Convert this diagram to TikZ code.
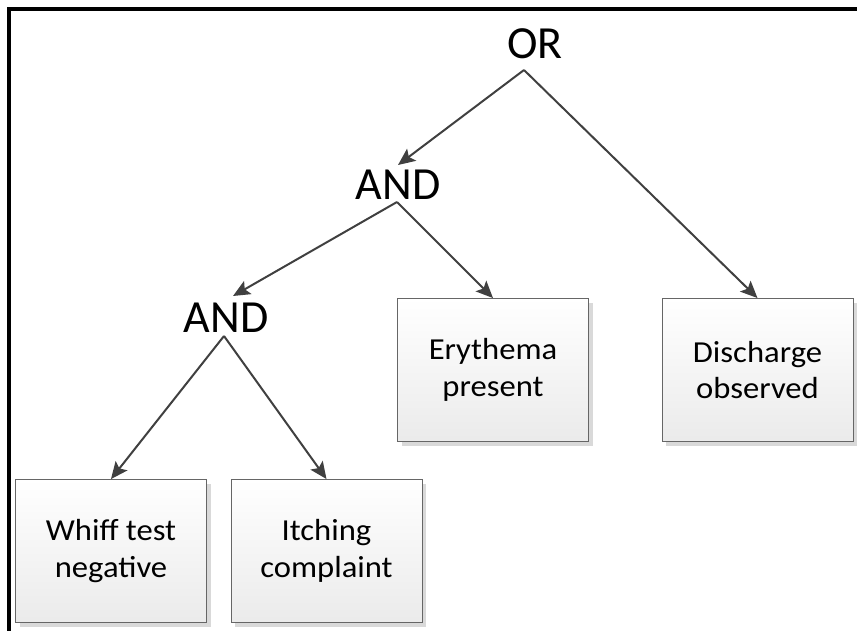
\documentclass[tikz,border=0pt]{standalone}
\usepackage{fontspec}
\setmainfont{Carlito}
\newfontfamily\boxfont[FakeStretch=1.07]{Carlito}
\usetikzlibrary{arrows.meta,shadows}
\tikzset{
  box/.style={draw=black!60, line width=0.9pt, top color=white, bottom color=black!8,
    minimum width=191pt, minimum height=143pt, inner sep=0pt, align=center,
    font=\boxfont\fontsize{30.5}{36.5}\selectfont,
    drop shadow={shadow xshift=4pt, shadow yshift=-4pt, fill=black!15, opacity=1}},
  gate/.style={inner sep=0pt, font=\fontsize{46}{50}\selectfont},
  arr/.style={draw=black!75, line width=2pt, -{Stealth[length=17pt,width=15pt,inset=3.5pt]}},
  frame/.style={line width=4.5pt, black}
}
\begin{document}
\begin{tikzpicture}[x=1pt,y=-1pt]
\useasboundingbox (0,0) rectangle (857,630);
\draw[frame] (9,632) -- (9,9) -- (859,9);
% gates
\node[gate] (or) at (535,44) {OR};
\node[gate] (and1) at (398,185) {AND};
\node[gate] (and2) at (226,318) {AND};
% boxes
\node[box] (whiff) at (111,551) {Whiff test\\negative};
\node[box] (itch) at (326.5,551) {Itching\\complaint};
\node[box] (ery) at (493,370) {Erythema\\present};
\node[box] (dis) at (757.5,370) {Discharge\\observed};
% connector origins
\coordinate (orb) at (524,70);
\coordinate (and1b) at (397,202);
\coordinate (and2b) at (224,336);
\coordinate (and1t) at (398,165);
\coordinate (and2t) at (233,296);
\draw[arr] (orb) -- (and1t);
\draw[arr] (orb) -- (dis.north);
\draw[arr] (and1b) -- (and2t);
\draw[arr] (and1b) -- (ery.north);
\draw[arr] (and2b) -- (whiff.north);
\draw[arr] (and2b) -- (itch.north);
\end{tikzpicture}
\end{document}
